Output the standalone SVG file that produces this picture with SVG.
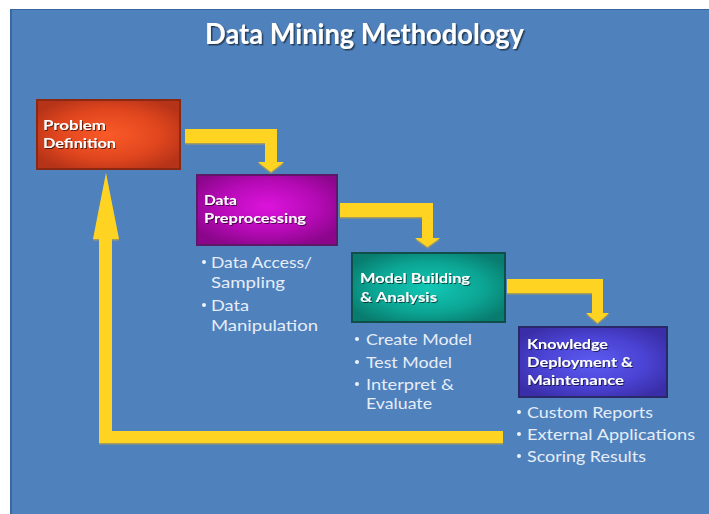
<svg xmlns="http://www.w3.org/2000/svg" width="709" height="514" viewBox="0 0 709 514">
<style>
.lbl{font-family:Lato,"Open Sans","DejaVu Sans",sans-serif;font-weight:bold;font-size:13.5px;fill:#ffffff;filter:url(#sh)}
.bul{font-family:Lato,"Open Sans","DejaVu Sans",sans-serif;font-size:16px;fill:#e6edf7}
.dot{fill:#eef3fa}
.title{font-family:Lato,"Open Sans","DejaVu Sans",sans-serif;font-weight:bold;font-size:28px;fill:#ffffff;filter:url(#sh2)}
.arrow{fill:#ffd324}
</style>
<defs>
<filter id="sh" x="-10%" y="-30%" width="130%" height="160%"><feDropShadow dx="1" dy="1" stdDeviation="0.4" flood-color="#000000" flood-opacity="0.6"/></filter>
<filter id="sh2" x="-10%" y="-30%" width="130%" height="160%"><feDropShadow dx="1.5" dy="1.5" stdDeviation="0.6" flood-color="#1a2a40" flood-opacity="0.8"/></filter>
<filter id="ash" x="-10%" y="-10%" width="130%" height="130%"><feDropShadow dx="0" dy="1.5" stdDeviation="0.3" flood-color="#c8a830" flood-opacity="0.7"/></filter>
<radialGradient id="gRed" cx="50%" cy="50%" r="60%"><stop offset="0" stop-color="#fb5a28"/><stop offset="0.6" stop-color="#e0461e"/><stop offset="1" stop-color="#b53318"/></radialGradient>
<radialGradient id="gPur" cx="50%" cy="45%" r="60%"><stop offset="0" stop-color="#dc14dc"/><stop offset="0.6" stop-color="#b50ab5"/><stop offset="1" stop-color="#8c068c"/></radialGradient>
<radialGradient id="gTeal" cx="50%" cy="50%" r="60%"><stop offset="0" stop-color="#12c8b6"/><stop offset="0.6" stop-color="#0ca594"/><stop offset="1" stop-color="#087c6e"/></radialGradient>
<radialGradient id="gBlu" cx="50%" cy="50%" r="60%"><stop offset="0" stop-color="#5c5cf2"/><stop offset="0.6" stop-color="#4a42d2"/><stop offset="1" stop-color="#3a2ea8"/></radialGradient>
</defs>
<rect x="0" y="0" width="709" height="514" fill="#ffffff"/>
<rect x="10" y="9" width="699" height="505" fill="#4f81bd"/>
<rect x="10" y="9" width="2" height="505" fill="#3a67a0"/>
<rect x="10" y="9" width="699" height="1" fill="#3a67a0"/>
<text class="title" x="205" y="44" textLength="319" lengthAdjust="spacingAndGlyphs">Data Mining Methodology</text>
<g id="connectors" filter="url(#ash)">
<path class="arrow" d="M185,129 H277 V162 H284 L271,172 L258,162 H265 V143 H185 Z"/>
<path class="arrow" d="M340,203 H433 V238 H440 L427.5,247 L415,238 H422 V217 H340 Z"/>
<path class="arrow" d="M507,279 H603 V313 H609 L597.5,323 L586,313 H592 V293 H507 Z"/>
<path class="arrow" d="M503,431 V443 H99 V239 H93 L106,173 L119,239 H112 V431 Z"/>
</g>
<g id="problem-definition">
<rect x="37" y="100" width="143" height="69" fill="url(#gRed)" stroke="#8a2812" stroke-width="2"/>
<text class="lbl" x="43" y="130" textLength="63" lengthAdjust="spacingAndGlyphs">Problem</text>
<text class="lbl" x="43" y="148" textLength="73" lengthAdjust="spacingAndGlyphs">Definition</text>
</g>
<g id="data-preprocessing">
<rect x="197" y="175" width="140" height="70" fill="url(#gPur)" stroke="#5e1868" stroke-width="2"/>
<text class="lbl" x="204" y="205" textLength="33" lengthAdjust="spacingAndGlyphs">Data</text>
<text class="lbl" x="204" y="223" textLength="102" lengthAdjust="spacingAndGlyphs">Preprocessing</text>
<circle class="dot" cx="204" cy="262" r="2"/>
<text class="bul" x="211" y="268" textLength="101" lengthAdjust="spacingAndGlyphs">Data Access/</text>
<text class="bul" x="211" y="288" textLength="74" lengthAdjust="spacingAndGlyphs">Sampling</text>
<circle class="dot" cx="204" cy="305" r="2"/>
<text class="bul" x="211" y="311" textLength="38" lengthAdjust="spacingAndGlyphs">Data</text>
<text class="bul" x="211" y="331" textLength="107" lengthAdjust="spacingAndGlyphs">Manipulation</text>
</g>
<g id="model-building">
<rect x="352" y="253" width="153" height="69" fill="url(#gTeal)" stroke="#104e4a" stroke-width="2"/>
<text class="lbl" x="360" y="283" textLength="110" lengthAdjust="spacingAndGlyphs">Model Building</text>
<text class="lbl" x="360" y="302" textLength="77" lengthAdjust="spacingAndGlyphs">&amp; Analysis</text>
<circle class="dot" cx="357" cy="339" r="2"/>
<text class="bul" x="366" y="345" textLength="106" lengthAdjust="spacingAndGlyphs">Create Model</text>
<circle class="dot" cx="357" cy="362" r="2"/>
<text class="bul" x="366" y="368" textLength="86" lengthAdjust="spacingAndGlyphs">Test Model</text>
<circle class="dot" cx="357" cy="384" r="2"/>
<text class="bul" x="366" y="390" textLength="88" lengthAdjust="spacingAndGlyphs">Interpret &amp;</text>
<text class="bul" x="366" y="409" textLength="66" lengthAdjust="spacingAndGlyphs">Evaluate</text>
</g>
<g id="knowledge-deployment">
<rect x="519" y="327" width="148" height="70" fill="url(#gBlu)" stroke="#2a2868" stroke-width="2"/>
<text class="lbl" x="527" y="349" textLength="81" lengthAdjust="spacingAndGlyphs">Knowledge</text>
<text class="lbl" x="527" y="367" textLength="106" lengthAdjust="spacingAndGlyphs">Deployment &amp;</text>
<text class="lbl" x="527" y="385" textLength="97" lengthAdjust="spacingAndGlyphs">Maintenance</text>
<circle class="dot" cx="519" cy="412" r="2"/>
<text class="bul" x="527" y="418" textLength="126" lengthAdjust="spacingAndGlyphs">Custom Reports</text>
<circle class="dot" cx="519" cy="434" r="2"/>
<text class="bul" x="527" y="440" textLength="168" lengthAdjust="spacingAndGlyphs">External Applications</text>
<circle class="dot" cx="519" cy="456" r="2"/>
<text class="bul" x="527" y="462" textLength="119" lengthAdjust="spacingAndGlyphs">Scoring Results</text>
</g>
</svg>
